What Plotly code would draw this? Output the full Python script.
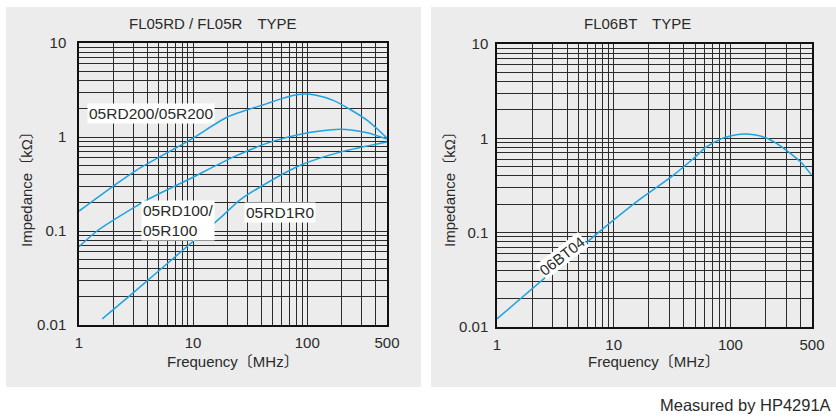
import math
import plotly.graph_objects as go

# ---------------- data ----------------
freq_200 = [1, 2.07, 3.2, 9.4, 20, 45, 60, 75, 92, 120, 169, 240, 336, 500]
imp_200 = [0.163, 0.31, 0.445, 0.93, 1.63, 2.28, 2.56, 2.76, 2.86, 2.78, 2.45, 1.95, 1.5, 0.975]

freq_100 = [1, 1.44, 3.95, 9.4, 22.4, 44.6, 87, 194, 336, 500]
imp_100 = [0.068, 0.100, 0.214, 0.36, 0.61, 0.86, 1.07, 1.21, 1.11, 0.95]

freq_1r0 = [1.6, 2.98, 8.8, 17.2, 25.8, 38.7, 87, 194, 500]
imp_1r0 = [0.0116, 0.022, 0.068, 0.137, 0.214, 0.294, 0.50, 0.69, 0.885]

freq_bt = [1, 7.3, 16.7, 31.9, 47.4, 62.4, 85, 100, 130, 160, 203, 250, 300, 400, 494]
imp_bt = [0.0122, 0.099, 0.225, 0.40, 0.60, 0.81, 1.0, 1.06, 1.11, 1.09, 1.01, 0.88, 0.75, 0.56, 0.41]

x_tick_vals = [1, 10, 100, 500]
x_tick_text = ["1", "10", "100", "500"]
y_tick_vals = [0.01, 0.1, 1, 10]
y_tick_text = ["0.01", "0.1", "1", "10"]

title_left = "FL05RD / FL05R\u3000TYPE"
title_right = "FL06BT\u3000TYPE"
x_title = "Frequency\u3014MHz\u3015"
y_title = "Impedance\u3014k\u03a9\u3015"
note = "Measured by HP4291A"

# ---------------- style ----------------
W, H = 836, 417
FONT = "Liberation Sans, Arial, Noto Sans CJK JP, sans-serif"
TXT = "#2a2a2a"
CURVE = "#1ea3e0"
GRID = "#2b2b2b"

x_minor = [m * 10 ** d for d in range(0, 3) for m in range(2, 10) if m * 10 ** d < 500]
y_minor = [m * 10 ** d for d in range(-2, 1) for m in range(2, 10)]


def px(xp):
    return xp / W


def py(yp):
    return 1 - yp / H


fig = go.Figure()

for xs, ys in [(freq_200, imp_200), (freq_100, imp_100), (freq_1r0, imp_1r0)]:
    fig.add_trace(go.Scatter(x=xs, y=ys, mode="lines", xaxis="x", yaxis="y",
                             line=dict(color=CURVE, width=1.5, shape="spline", smoothing=0.7),
                             hoverinfo="skip", showlegend=False))
fig.add_trace(go.Scatter(x=freq_bt, y=imp_bt, mode="lines", xaxis="x2", yaxis="y2",
                         line=dict(color=CURVE, width=1.5, shape="spline", smoothing=0.7),
                         hoverinfo="skip", showlegend=False))


def xaxis(domain, anchor):
    return dict(type="log", domain=domain, anchor=anchor, range=[0, math.log10(500)],
                tickmode="array", tickvals=x_tick_vals, ticktext=x_tick_text,
                ticks="", showgrid=True, gridcolor=GRID, gridwidth=1,
                minor=dict(tickmode="array", tickvals=x_minor, showgrid=True,
                           gridcolor=GRID, gridwidth=1, ticks=""),
                showline=True, linecolor="#111", linewidth=1.5, mirror=True,
                zeroline=False, tickfont=dict(family=FONT, size=15, color=TXT),
                ticklabelstandoff=3, fixedrange=True, automargin=False)


def yaxis(domain, anchor, standoff):
    return dict(type="log", domain=domain, anchor=anchor, range=[-2, 1],
                tickmode="array", tickvals=y_tick_vals, ticktext=y_tick_text,
                ticks="", showgrid=True, gridcolor=GRID, gridwidth=1,
                minor=dict(tickmode="array", tickvals=y_minor, showgrid=True,
                           gridcolor=GRID, gridwidth=1, ticks=""),
                showline=True, linecolor="#111", linewidth=1.5, mirror=True,
                zeroline=False, tickfont=dict(family=FONT, size=15, color=TXT),
                ticklabelstandoff=standoff, fixedrange=True, automargin=False)


fig.update_layout(
    width=W, height=H, margin=dict(l=0, r=0, t=0, b=0, autoexpand=False),
    paper_bgcolor="white", plot_bgcolor="white",
    font=dict(family=FONT, color=TXT),
    xaxis=xaxis([px(79), px(387)], "y"),
    yaxis=yaxis([py(325), py(43)], "x", 8),
    xaxis2=xaxis([px(497), px(812)], "y2"),
    yaxis2=yaxis([py(327), py(44)], "x2", 4),
    showlegend=False,
)

# grey panels
for x0, x1 in [(6, 421), (431, 836)]:
    fig.add_shape(type="rect", xref="paper", yref="paper",
                  x0=px(x0), x1=px(x1), y0=py(387), y1=py(7),
                  fillcolor="#ececec", line=dict(width=0), layer="below")

ann = []


def paper_text(text, xc, yc, size=15, xanchor="center", angle=0):
    return dict(text=text, x=px(xc), y=py(yc), xref="paper", yref="paper",
                xanchor=xanchor, yanchor="middle", showarrow=False, textangle=angle,
                font=dict(size=size, family=FONT, color=TXT))


# panel titles
ann.append(paper_text(title_left, 213, 24))
ann.append(paper_text(title_right, 637, 24))
# axis titles
for xc in [233, 654]:
    ann.append(paper_text(x_title, xc, 361))
for xc in [26, 449]:
    ann.append(paper_text(y_title, xc, 186, angle=-90))
# note
ann.append(paper_text(note, 833, 405, size=16.5, xanchor="right"))

# curve labels
ann.append(dict(text="05RD200/05R200", x=0.632, y=0.245, xref="x", yref="y",
                xanchor="center", yanchor="middle",
                showarrow=False, bgcolor="white", borderpad=1,
                font=dict(size=15.5, family=FONT, color=TXT)))
ann.append(dict(text="05RD100/<br>05R100", x=0.54, y=-0.883, xref="x", yref="y",
                xanchor="left", yanchor="middle", align="left", showarrow=False,
                bgcolor="white", borderpad=1,
                font=dict(size=15.5, family=FONT, color=TXT)))
ann.append(dict(text="05RD1R0", x=1.45, y=-0.80, xref="x", yref="y",
                xanchor="left", yanchor="middle", showarrow=False, bgcolor="white",
                borderpad=1, font=dict(size=15.5, family=FONT, color=TXT)))
ann.append(dict(text="06BT04", x=0.564, y=-1.247, xref="x2", yref="y2",
                xanchor="center", yanchor="middle",
                showarrow=False, bgcolor="white", borderpad=0, textangle=-38,
                font=dict(size=15, family=FONT, color=TXT)))

fig.update_layout(annotations=ann)

fig.write_html("out.html", config={"displayModeBar": False},
               post_script="document.body.style.margin='0';document.body.style.overflow='hidden';")
